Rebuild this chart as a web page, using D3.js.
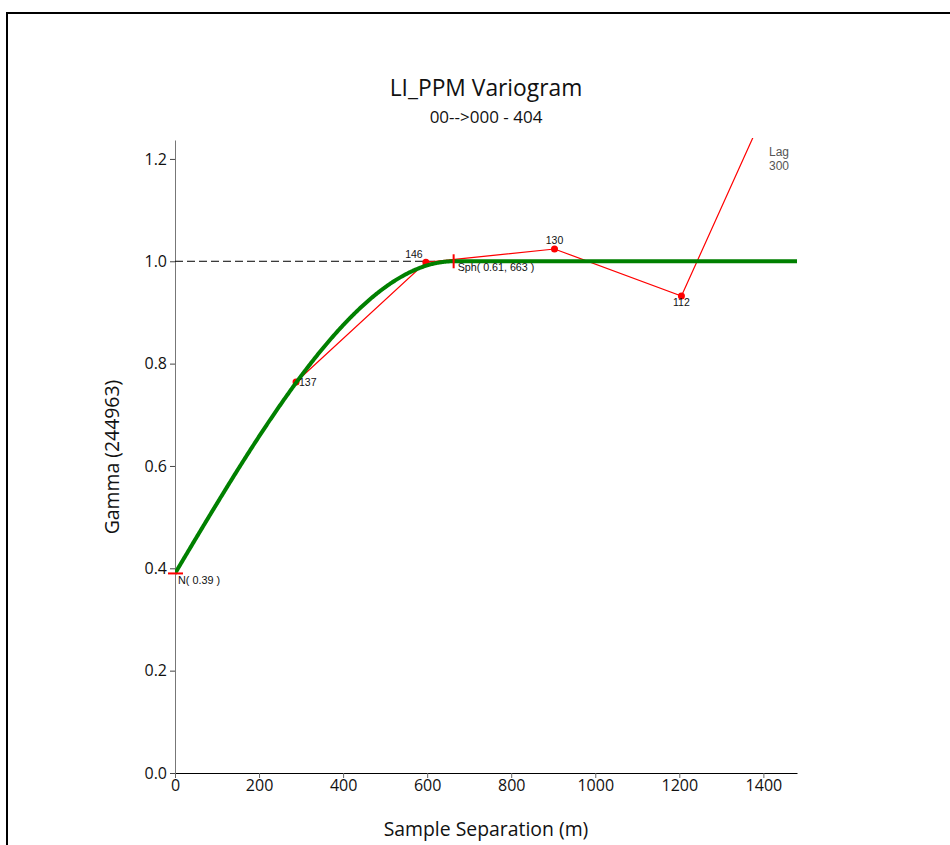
<!DOCTYPE html>
<html><head><meta charset="utf-8">
<script src="https://cdn.jsdelivr.net/npm/d3@7"></script>
<style>body{margin:0;background:#fff}svg{display:block}</style>
</head><body>
<svg id="c" width="950" height="845"></svg>
<script>
// Experimental variogram points
const lagDist = [288, 597, 903, 1205, 1506];
const lagGamma = [0.764, 0.998, 1.024, 0.932, 1.48];
const lagPairs = ["137", "146", "130", "112", ""];
// Model parameters (spherical)
const nugget = 0.39;
const sill = 0.61;
const range = 663;
const xTicks = [0, 200, 400, 600, 800, 1000, 1200, 1400];
const yTicks = [0, 0.2, 0.4, 0.6, 0.8, 1.0, 1.2];
const lagSize = 300;

const svg = d3.select("#c");
const sans = "'Open Sans','Noto Sans',sans-serif";
const arial = "'Liberation Sans',Arial,sans-serif";

// frame
svg.append("rect").attr("x",7).attr("y",13).attr("width",1000).attr("height",900)
  .attr("fill","none").attr("stroke","#000").attr("stroke-width",2);

const x = d3.scaleLinear().domain([0,1480]).range([175,797]);
const y = d3.scaleLinear().domain([0,1.237]).range([773,140]);

svg.append("defs").append("clipPath").attr("id","clip").append("rect")
  .attr("x",175).attr("y",138).attr("width",622).attr("height",635);

// axes
const xa = svg.append("g").attr("transform","translate(0,773)")
  .call(d3.axisBottom(x).tickValues(xTicks).tickSize(5).tickPadding(2).tickSizeOuter(0).tickFormat(d3.format("d")));
xa.select(".domain").attr("stroke","#000");
xa.selectAll(".tick line").attr("stroke","#666");
xa.selectAll("text").attr("font-family",sans).attr("font-size",16).attr("fill","#111");

const ya = svg.append("g").attr("transform","translate(175,0)")
  .call(d3.axisLeft(y).tickValues(yTicks).tickSize(5).tickPadding(3).tickSizeOuter(0).tickFormat(d3.format(".1f")));
ya.select(".domain").attr("stroke","#777");
ya.selectAll(".tick line").attr("stroke","#444");
ya.selectAll("text").attr("font-family",sans).attr("font-size",16).attr("fill","#111");

// titles
svg.append("text").attr("x",486).attr("y",96).attr("text-anchor","middle")
  .attr("font-family",sans).attr("font-size",22.8).attr("fill","#111").text("LI_PPM Variogram");
svg.append("text").attr("x",486).attr("y",123).attr("text-anchor","middle")
  .attr("font-family",sans).attr("font-size",17).attr("fill","#111").text("00-->000 - 404");
svg.append("text").attr("x",486).attr("y",836).attr("text-anchor","middle")
  .attr("font-family",sans).attr("font-size",19.4).attr("fill","#111").text("Sample Separation (m)");
svg.append("text").attr("transform","translate(119,457) rotate(-90)").attr("text-anchor","middle")
  .attr("font-family",sans).attr("font-size",19.4).attr("fill","#111").text("Gamma (244963)");

const plot = svg.append("g").attr("clip-path","url(#clip)");

// dashed sill line
plot.append("line").attr("x1",x(0)).attr("x2",x(range)).attr("y1",y(nugget+sill)).attr("y2",y(nugget+sill))
  .attr("stroke","#000").attr("stroke-width",1).attr("stroke-dasharray","8,4");

// experimental line and points
const pts = lagDist.map((d,i)=>({d, g:lagGamma[i], n:lagPairs[i]}));
plot.append("path").datum(pts)
  .attr("d", d3.line().x(p=>x(p.d)).y(p=>y(p.g)))
  .attr("fill","none").attr("stroke","#ff0000").attr("stroke-width",1.2);
plot.selectAll("circle").data(pts).join("circle")
  .attr("cx",p=>x(p.d)).attr("cy",p=>y(p.g)).attr("r",3.5).attr("fill","#ff0000");

// spherical model curve
const model = h => h >= range ? nugget + sill : nugget + sill*(1.5*h/range - 0.5*Math.pow(h/range,3));
const hs = d3.range(0, 1481, 2);
plot.append("path").datum(hs)
  .attr("d", d3.line().x(h=>x(h)).y(h=>y(model(h))))
  .attr("fill","none").attr("stroke","#008000").attr("stroke-width",4);

// nugget and range markers
svg.append("line").attr("x1",x(0)-7).attr("x2",x(0)+8).attr("y1",y(nugget)).attr("y2",y(nugget))
  .attr("stroke","#ff0000").attr("stroke-width",2);
svg.append("line").attr("x1",x(range)).attr("x2",x(range)).attr("y1",y(nugget+sill)-7).attr("y2",y(nugget+sill)+7)
  .attr("stroke","#ff0000").attr("stroke-width",2);

svg.append("text").attr("x",x(0)+3).attr("y",y(nugget)+11).attr("font-family",arial).attr("font-size",10.8)
  .attr("fill","#111").text("N( " + nugget.toFixed(2) + " )");
svg.append("text").attr("x",x(range)+4).attr("y",y(nugget+sill)+10).attr("font-family",arial).attr("font-size",10.7)
  .attr("fill","#111").text("Sph( " + sill.toFixed(2) + ", " + range + " )");

// point labels
const offs = [[3,4,"start"],[-12,-4,"middle"],[0,-5,"middle"],[0,10,"middle"],[0,0,"middle"]];
pts.forEach((p,i)=>{
  if(!p.n) return;
  svg.append("text").attr("x",x(p.d)+offs[i][0]).attr("y",y(p.g)+offs[i][1])
    .attr("text-anchor",offs[i][2]).attr("font-family",arial).attr("font-size",10.5).attr("fill","#111").text(p.n);
});

// lag legend
svg.append("text").attr("x",769).attr("y",156).attr("font-family",arial).attr("font-size",12).attr("fill","#555").text("Lag");
svg.append("text").attr("x",769).attr("y",170).attr("font-family",arial).attr("font-size",12).attr("fill","#555").text(lagSize);
</script>
</body></html>
